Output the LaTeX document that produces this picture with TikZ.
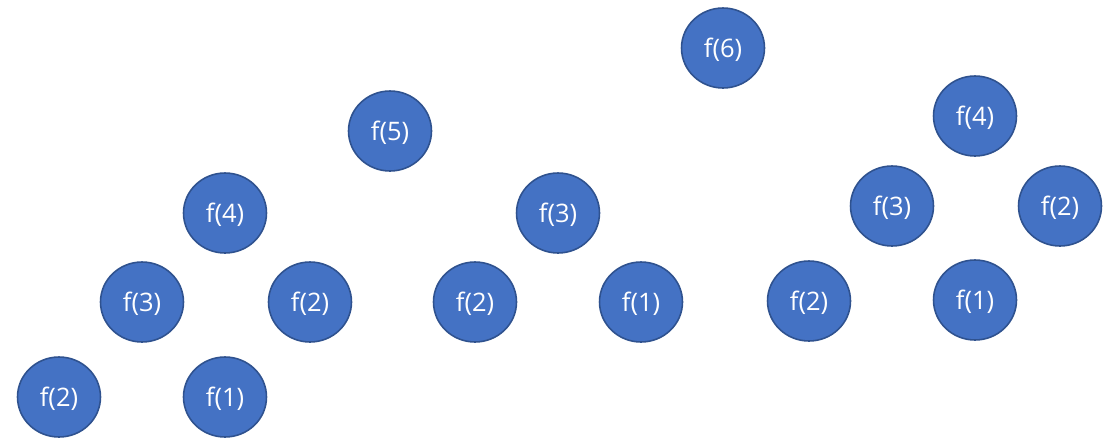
\documentclass[tikz,border=0pt]{standalone}
\usepackage{fontspec}
\setmainfont{Open Sans}
\usetikzlibrary{shapes.geometric}

\definecolor{callfill}{HTML}{4472C4}
\definecolor{callline}{HTML}{2F528F}

\begin{document}
\begin{tikzpicture}[
    x=0.02cm, y=-0.02cm,
    call/.style={ellipse, draw=callline, fill=callfill, line width=0.9pt, minimum width=1.66cm, minimum height=1.6cm, inner sep=0pt, text height=14pt, text depth=3.5pt, text=white, font=\fontsize{14.5}{17}\selectfont}
]
    \useasboundingbox (0,0) rectangle (1115,447);

    % top of the call tree
    \node[call] (f6) at (723,48) {f(6)};
    \node[call] (f5) at (390,131) {f(5)};

    % left branch
    \node[call] (f4a) at (225,213) {f(4)};
    \node[call] (f3a) at (142,302) {f(3)};
    \node[call] (f2a) at (310,302) {f(2)};
    \node[call] (f2b) at (59,397) {f(2)};
    \node[call] (f1a) at (225,397) {f(1)};

    % middle branch
    \node[call] (f3b) at (558,213) {f(3)};
    \node[call] (f2c) at (475,302) {f(2)};
    \node[call] (f1b) at (641,302) {f(1)};

    % right branch
    \node[call] (f4b) at (975,116) {f(4)};
    \node[call] (f3c) at (892,206) {f(3)};
    \node[call] (f2d) at (1060,206) {f(2)};
    \node[call] (f2e) at (809,301) {f(2)};
    \node[call] (f1c) at (975,300) {f(1)};
\end{tikzpicture}
\end{document}
